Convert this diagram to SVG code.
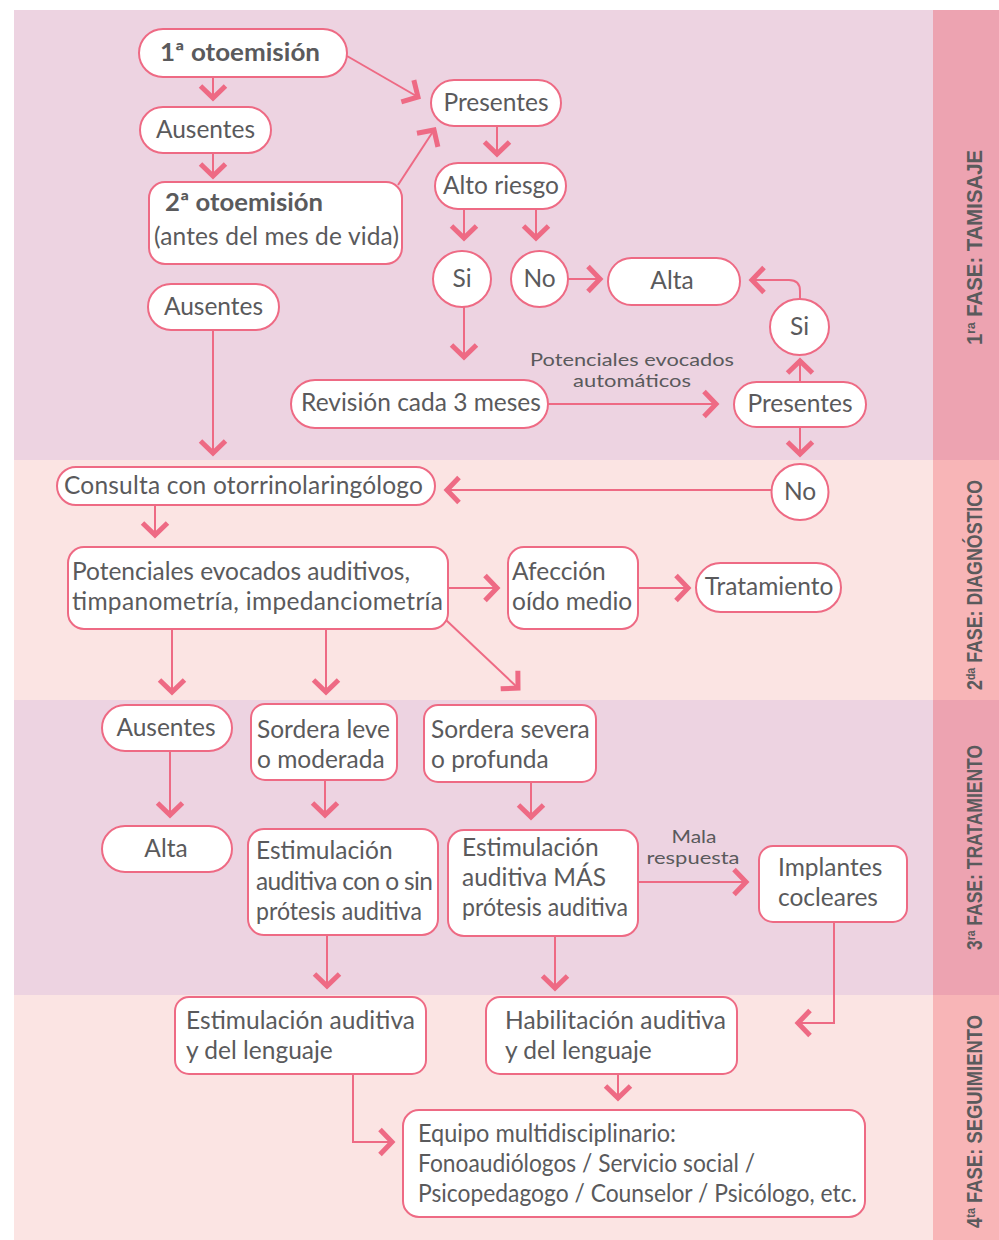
<svg xmlns="http://www.w3.org/2000/svg" width="999" height="1240" viewBox="0 0 999 1240">
<style>
.n{fill:#fff;stroke:#EE6A84;stroke-width:2}
.t{font-family:Lato,"Liberation Sans",sans-serif;font-size:24.5px;fill:#5A5A5C}
.b{font-weight:bold}
.c{text-anchor:middle}
.s{font-size:17.5px}
.ph{font-family:"Liberation Sans",sans-serif;font-weight:bold;font-size:22px;fill:#5A5A5C;text-anchor:middle}
.e{fill:none;stroke:#EE6A84;stroke-width:2}
</style>
<defs>
<marker id="a" markerUnits="userSpaceOnUse" markerWidth="40" markerHeight="40" refX="0" refY="0" orient="auto" overflow="visible" viewBox="-20 -20 40 40">
<path d="M -12 -12.5 L 0 0 L -12 12.5" fill="none" stroke="#EE6A84" stroke-width="5"/>
</marker>
</defs>
<rect x="0" y="0" width="999" height="1240" fill="#fff"/>
<g id="bands">
<rect x="14" y="10" width="919" height="450" fill="#EDD3E1"/>
<rect x="14" y="460" width="919" height="240" fill="#FBE4E3"/>
<rect x="14" y="700" width="919" height="295" fill="#EDD3E1"/>
<rect x="14" y="995" width="919" height="245" fill="#FBE4E3"/>
<rect x="933" y="10" width="66" height="450" fill="#EDA3B1"/>
<rect x="933" y="460" width="66" height="240" fill="#F8B5B7"/>
<rect x="933" y="700" width="66" height="295" fill="#EDA3B1"/>
<rect x="933" y="995" width="66" height="245" fill="#F8B5B7"/>
<text class="ph" transform="translate(982,247.5) rotate(-90)" textLength="195" lengthAdjust="spacingAndGlyphs">1<tspan font-size="13" dy="-7">ra</tspan><tspan dy="7"> FASE: TAMISAJE</tspan></text>
<text class="ph" transform="translate(982,585) rotate(-90)" textLength="210" lengthAdjust="spacingAndGlyphs">2<tspan font-size="13" dy="-7">da</tspan><tspan dy="7"> FASE: DIAGNÓSTICO</tspan></text>
<text class="ph" transform="translate(982,847.5) rotate(-90)" textLength="205" lengthAdjust="spacingAndGlyphs">3<tspan font-size="13" dy="-7">ra</tspan><tspan dy="7"> FASE: TRATAMIENTO</tspan></text>
<text class="ph" transform="translate(982,1121.5) rotate(-90)" textLength="213" lengthAdjust="spacingAndGlyphs">4<tspan font-size="13" dy="-7">ta</tspan><tspan dy="7"> FASE: SEGUIMIENTO</tspan></text>
</g>
<g id="connectors">
<path class="e" marker-end="url(#a)" d="M213 77 V98"/>
<path class="e" marker-end="url(#a)" d="M213 153 V176"/>
<path class="e" marker-end="url(#a)" d="M347 56 L418 97"/>
<path class="e" marker-end="url(#a)" d="M398 185 L434 130"/>
<path class="e" marker-end="url(#a)" d="M497 126 V154"/>
<path class="e" marker-end="url(#a)" d="M464 209 V238"/>
<path class="e" marker-end="url(#a)" d="M536 209 V238"/>
<path class="e" marker-end="url(#a)" d="M568 279 H600"/>
<path class="e" marker-end="url(#a)" d="M464 307 V357"/>
<path class="e" marker-end="url(#a)" d="M548 404 H716"/>
<path class="e" marker-end="url(#a)" d="M800 382 V361"/>
<path class="e" marker-end="url(#a)" d="M800 299 V291 Q800 280 789 280 H752"/>
<path class="e" marker-end="url(#a)" d="M800 427 V454"/>
<path class="e" marker-end="url(#a)" d="M772 490 H447"/>
<path class="e" marker-end="url(#a)" d="M213 330 V453"/>
<path class="e" marker-end="url(#a)" d="M155 505 V535"/>
<path class="e" marker-end="url(#a)" d="M448 588 H497"/>
<path class="e" marker-end="url(#a)" d="M638 588 H688"/>
<path class="e" marker-end="url(#a)" d="M172 629 V692"/>
<path class="e" marker-end="url(#a)" d="M326 629 V692"/>
<path class="e" marker-end="url(#a)" d="M446 620 L518 688"/>
<path class="e" marker-end="url(#a)" d="M170 751 V815"/>
<path class="e" marker-end="url(#a)" d="M325 780 V815"/>
<path class="e" marker-end="url(#a)" d="M531 782 V817"/>
<path class="e" marker-end="url(#a)" d="M638 882 H746"/>
<path class="e" marker-end="url(#a)" d="M327 935 V986"/>
<path class="e" marker-end="url(#a)" d="M555 936 V988"/>
<path class="e" marker-end="url(#a)" d="M834 922 V1023 H798"/>
<path class="e" marker-end="url(#a)" d="M353 1074 V1142 H392"/>
<path class="e" marker-end="url(#a)" d="M618 1074 V1098"/>
<text class="t s c" x="632" y="366" textLength="204" lengthAdjust="spacingAndGlyphs">Potenciales evocados</text>
<text class="t s c" x="632" y="387" textLength="118" lengthAdjust="spacingAndGlyphs">automáticos</text>
<text class="t s c" x="694" y="843" textLength="45" lengthAdjust="spacingAndGlyphs">Mala</text>
<text class="t s c" x="693" y="864" textLength="93" lengthAdjust="spacingAndGlyphs">respuesta</text>
</g>
<g id="n1"><rect class="n" x="139" y="29" width="208" height="48" rx="24"/><text class="t b" x="160" y="61" font-size="25.5" textLength="160" lengthAdjust="spacingAndGlyphs">1ª otoemisión</text></g>
<g id="n2"><rect class="n" x="140" y="107" width="131" height="46" rx="23"/><text class="t c" x="205.5" y="138">Ausentes</text></g>
<g id="n3"><rect class="n" x="149" y="182" width="253" height="82" rx="16"/><text class="t b" x="165" y="211" font-size="25.5" textLength="158" lengthAdjust="spacingAndGlyphs">2ª otoemisión</text><text class="t" x="154" y="245" textLength="245">(antes del mes de vida)</text></g>
<g id="n4"><rect class="n" x="431" y="80" width="130" height="46" rx="23"/><text class="t c" x="496" y="111">Presentes</text></g>
<g id="n5"><rect class="n" x="435" y="163" width="131" height="46" rx="23"/><text class="t c" x="501" y="194">Alto riesgo</text></g>
<g id="n6"><ellipse class="n" cx="462" cy="279" rx="29" ry="28"/><text class="t c" x="462" y="287">Si</text></g>
<g id="n7"><ellipse class="n" cx="539.5" cy="279" rx="28.5" ry="28"/><text class="t c" x="539.5" y="287">No</text></g>
<g id="n8"><rect class="n" x="608" y="258" width="132" height="47" rx="23.5"/><text class="t c" x="672" y="289">Alta</text></g>
<g id="n9"><ellipse class="n" cx="799.5" cy="327" rx="29.5" ry="28"/><text class="t c" x="799.5" y="335">Si</text></g>
<g id="n10"><rect class="n" x="148" y="284" width="131" height="46" rx="23"/><text class="t c" x="213.5" y="315">Ausentes</text></g>
<g id="n11"><rect class="n" x="291" y="380" width="257" height="48" rx="24"/><text class="t c" x="421" y="411">Revisión cada 3 meses</text></g>
<g id="n12"><rect class="n" x="734" y="382" width="132" height="45" rx="22.5"/><text class="t c" x="800" y="412">Presentes</text></g>
<g id="n13"><ellipse class="n" cx="800" cy="492" rx="28.5" ry="28"/><text class="t c" x="800" y="500">No</text></g>
<g id="n14"><rect class="n" x="57" y="467" width="378" height="38" rx="19"/><text class="t" x="64" y="494" textLength="359">Consulta con otorrinolaringólogo</text></g>
<g id="n15"><rect class="n" x="68" y="547" width="380" height="82" rx="16"/><text class="t" x="72" y="580" textLength="338">Potenciales evocados auditivos,</text><text class="t" x="72" y="610" textLength="371">timpanometría, impedanciometría</text></g>
<g id="n16"><rect class="n" x="508" y="547" width="130" height="82" rx="16"/><text class="t" x="512" y="580">Afección</text><text class="t" x="512" y="610">oído medio</text></g>
<g id="n17"><rect class="n" x="696" y="563" width="145" height="49" rx="24.5"/><text class="t c" x="769" y="595">Tratamiento</text></g>
<g id="n18"><rect class="n" x="102" y="705" width="130" height="46" rx="23"/><text class="t c" x="166" y="736">Ausentes</text></g>
<g id="n19"><rect class="n" x="251" y="704" width="146" height="76" rx="14"/><text class="t" x="257" y="738">Sordera leve</text><text class="t" x="257" y="768">o moderada</text></g>
<g id="n20"><rect class="n" x="424" y="705" width="172" height="77" rx="14"/><text class="t" x="431" y="738">Sordera severa</text><text class="t" x="431" y="768">o profunda</text></g>
<g id="n21"><rect class="n" x="102" y="826" width="130" height="46" rx="23"/><text class="t c" x="166" y="857">Alta</text></g>
<g id="n22"><rect class="n" x="248" y="829" width="190" height="106" rx="16"/><text class="t" x="256" y="859">Estimulación</text><text class="t" x="256" y="890" textLength="177">auditiva con o sin</text><text class="t" x="256" y="920" textLength="166" lengthAdjust="spacingAndGlyphs">prótesis auditiva</text></g>
<g id="n23"><rect class="n" x="448" y="830" width="190" height="106" rx="16"/><text class="t" x="462" y="856">Estimulación</text><text class="t" x="462" y="886">auditiva MÁS</text><text class="t" x="462" y="916" textLength="166" lengthAdjust="spacingAndGlyphs">prótesis auditiva</text></g>
<g id="n24"><rect class="n" x="759" y="846" width="148" height="76" rx="14"/><text class="t" x="778" y="876">Implantes</text><text class="t" x="778" y="906">cocleares</text></g>
<g id="n25"><rect class="n" x="175" y="997" width="251" height="77" rx="14"/><text class="t" x="186" y="1029" textLength="229">Estimulación auditiva</text><text class="t" x="186" y="1059">y del lenguaje</text></g>
<g id="n26"><rect class="n" x="486" y="997" width="251" height="77" rx="14"/><text class="t" x="505" y="1029" textLength="221">Habilitación auditiva</text><text class="t" x="505" y="1059">y del lenguaje</text></g>
<g id="n27"><rect class="n" x="403" y="1110" width="462" height="107" rx="16"/><text class="t" x="418" y="1142" textLength="258" lengthAdjust="spacingAndGlyphs">Equipo multidisciplinario:</text><text class="t" x="418" y="1172" textLength="337" lengthAdjust="spacingAndGlyphs">Fonoaudiólogos / Servicio social /</text><text class="t" x="418" y="1202" textLength="439" lengthAdjust="spacingAndGlyphs">Psicopedagogo / Counselor / Psicólogo, etc.</text></g>
</svg>
